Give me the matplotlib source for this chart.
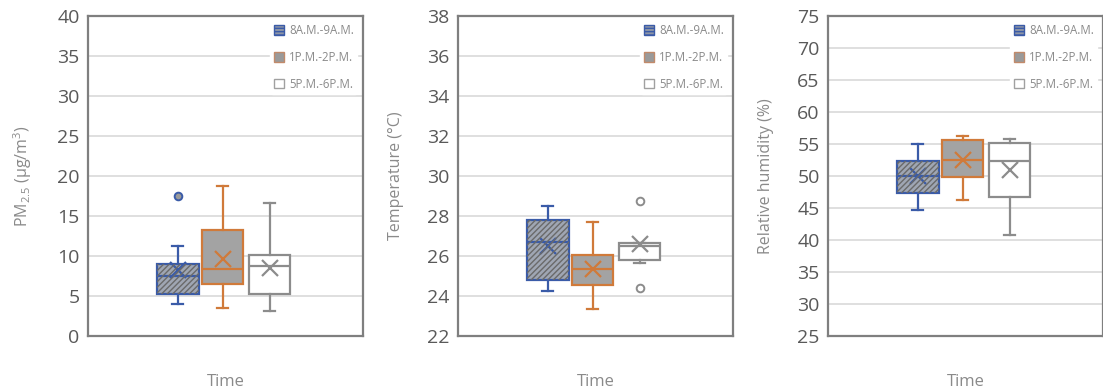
import matplotlib
matplotlib.use("Agg")
import matplotlib.pyplot as plt
from matplotlib.patches import Patch, PathPatch

plt.rcParams['font.family'] = ['Open Sans', 'DejaVu Sans']
plt.rcParams['mathtext.default'] = 'regular'

series = ["8A.M.-9A.M.", "1P.M.-2P.M.", "5P.M.-6P.M."]

# stats per series: [whislo, q1, med, q3, whishi, mean]
pm25_stats = [[4.0, 5.2, 7.5, 9.0, 11.3, 8.2],
              [3.5, 6.45, 8.4, 13.2, 18.75, 9.6],
              [3.1, 5.3, 8.7, 10.1, 16.6, 8.5]]
pm25_fliers = [[17.5], [], []]

temp_stats = [[24.23, 24.82, 26.72, 27.78, 28.48, 26.48],
              [23.37, 24.57, 25.35, 26.03, 27.7, 25.37],
              [25.65, 25.78, 26.48, 26.67, 26.67, 26.62]]
temp_fliers = [[], [], [28.75, 24.4]]

rh_stats = [[44.74, 47.34, 50.0, 52.34, 54.95, 50.0],
            [46.3, 49.84, 52.45, 55.57, 56.15, 52.45],
            [40.83, 46.72, 52.34, 55.16, 55.73, 50.9]]
rh_fliers = [[], [], []]

panels = [
    dict(stats=pm25_stats, fliers=pm25_fliers, ylim=(0, 40), yticks=list(range(0, 41, 5)),
         ylabel="PM$_{2.5}$ (μg/m$^3$)"),
    dict(stats=temp_stats, fliers=temp_fliers, ylim=(22, 38), yticks=list(range(22, 39, 2)),
         ylabel="Temperature (°C)"),
    dict(stats=rh_stats, fliers=rh_fliers, ylim=(25, 75), yticks=list(range(25, 76, 5)),
         ylabel="Relative humidity (%)"),
]

edge_colors = ["#3a5ba8", "#d07a3a", "#8c8c8c"]
face_colors = ["#9fa6b3", "#a3a3a3", "#ffffff"]
positions = [0.327, 0.49, 0.66]

fig = plt.figure(figsize=(11.03, 3.89), dpi=100)
lefts = [88/1103, 458/1103, 828/1103]
w = 275/1103
bottom = 1 - 336/389
height = (336 - 15.7)/389

for i, p in enumerate(panels):
    ax = fig.add_axes([lefts[i], bottom, w, height])

    for j in range(3):
        lo, q1, med, q3, hi, mean = p['stats'][j]
        st = dict(whislo=lo, q1=q1, med=med, q3=q3, whishi=hi, mean=mean,
                  fliers=p['fliers'][j], label=series[j])
        c = edge_colors[j]
        res = ax.bxp([st], positions=[positions[j]], widths=0.15, patch_artist=True,
                     showmeans=True, capwidths=0.04, manage_ticks=False,
                     boxprops=dict(facecolor=face_colors[j], edgecolor=c, lw=1.6),
                     medianprops=dict(color=c, lw=1.6),
                     whiskerprops=dict(color=c, lw=1.6),
                     capprops=dict(color=c, lw=1.6),
                     meanprops=dict(marker='x', markeredgecolor=c, markersize=11, mew=1.6),
                     flierprops=dict(marker='o', markersize=5.5, markeredgecolor=c,
                                     markerfacecolor=('#9a9a9a' if j == 0 else 'white'),
                                     mew=1.4))
        if j == 0:
            box = res['boxes'][0]
            hp = PathPatch(box.get_path(), facecolor='none', edgecolor='#6a6a6a',
                           hatch='//////', lw=0, zorder=box.get_zorder() + 0.1)
            ax.add_patch(hp)

    ax.set_xlim(0, 1)
    ax.set_ylim(*p['ylim'])
    ax.set_yticks(p['yticks'])
    ax.set_xticks([])
    ax.yaxis.grid(True, color='#d9d9d9', lw=1.2)
    ax.set_axisbelow(True)
    for s in ax.spines.values():
        s.set_color('#7f7f7f')
        s.set_linewidth(1.6)
        s.set_zorder(10)
    ax.tick_params(axis='y', length=0, labelsize=14, labelcolor='#595959', pad=6)
    ax.set_ylabel(p['ylabel'], fontsize=11.5, color='#8a8a8a', labelpad=17)
    ax.set_xlabel("Time", fontsize=12, color='#8a8a8a', labelpad=27)

    handles = [Patch(facecolor='#8d95a6', edgecolor='#3a5ba8', hatch='-----', lw=1.0),
               Patch(facecolor='#9a9a9a', edgecolor='#c28a6a', lw=1.0),
               Patch(facecolor='white', edgecolor='#a0a0a0', lw=1.0)]
    leg = ax.legend(handles, series, loc='upper right', bbox_to_anchor=(1.0, 1.003),
                    fontsize=8.3, frameon=True, framealpha=1, edgecolor='white',
                    labelspacing=1.2, handlelength=0.9, handleheight=0.9,
                    handletextpad=0.4, borderpad=0.3, labelcolor='#8a8a8a')
    leg.set_zorder(5)

fig.savefig("out.png", dpi=100)
